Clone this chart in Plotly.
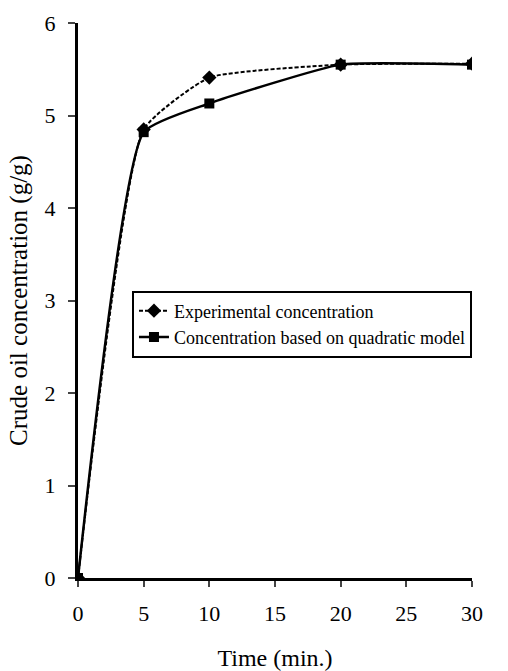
import plotly.graph_objects as go

time_min = [0, 5, 10, 20, 30]
experimental = [0.0, 4.85, 5.41, 5.55, 5.56]
quadratic_model = [0.0, 4.82, 5.13, 5.55, 5.55]
x_ticks = [0, 5, 10, 15, 20, 25, 30]
y_ticks = [0, 1, 2, 3, 4, 5, 6]
series_names = ["Experimental concentration", "Concentration based on quadratic model"]

FONT = "Liberation Serif, Times New Roman, serif"

fig = go.Figure()
fig.add_trace(go.Scatter(
    x=time_min, y=experimental, name=series_names[0],
    mode="lines+markers",
    line=dict(color="black", width=2, dash="4px,2px", shape="spline", smoothing=0.45),
    marker=dict(symbol="diamond", size=11, color="black"),
))
fig.add_trace(go.Scatter(
    x=time_min, y=quadratic_model, name=series_names[1],
    mode="lines+markers",
    line=dict(color="black", width=2.5, shape="spline", smoothing=0.45),
    marker=dict(symbol="square", size=10, color="black"),
))

fig.update_layout(
    width=508, height=671,
    margin=dict(l=78, r=36, t=23, b=93),
    paper_bgcolor="white", plot_bgcolor="white",
    font=dict(family=FONT, color="black", size=22),
    showlegend=True,
    legend=dict(
        x=0.137, y=0.518, xanchor="left", yanchor="top",
        bgcolor="white", bordercolor="black", borderwidth=2,
        font=dict(family=FONT, size=18, color="black"),
        tracegroupgap=0, itemwidth=30,
    ),
    xaxis=dict(
        range=[0, 30], tickvals=x_ticks, ticks="outside", ticklen=6, tickwidth=2,
        showline=True, linecolor="black", linewidth=3, showgrid=False, zeroline=False,
        ticklabelstandoff=8, automargin=False,
        title=dict(text="Time (min.)", font=dict(size=24), standoff=24),
        tickfont=dict(size=22),
    ),
    yaxis=dict(
        range=[0, 6], tickvals=y_ticks, ticks="outside", ticklen=7, tickwidth=2,
        showline=True, linecolor="black", linewidth=3, showgrid=False, zeroline=False,
        ticklabelstandoff=8, automargin=False,
        title=dict(text="Crude oil concentration (g/g)", font=dict(size=25), standoff=10),
        tickfont=dict(size=22),
    ),
)

fig.write_html("out.html")
